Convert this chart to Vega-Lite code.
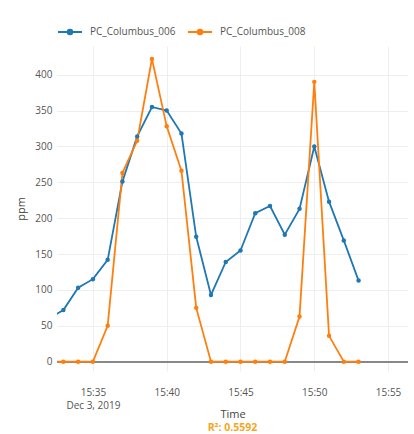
{
  "$schema": "https://vega.github.io/schema/vega-lite/v6.json",
  "width": 351,
  "height": 325,
  "autosize": {"type": "none"},
  "padding": {"left": 57, "top": 46, "right": 6, "bottom": 63},
  "background": "white",
  "config": {
    "view": {"stroke": null},
    "font": "Open Sans",
    "axis": {"gridColor": "#eeeeee", "gridWidth": 1, "domain": false, "ticks": false, "labelColor": "#555555", "labelFontSize": 10, "titleColor": "#444444", "titleFontSize": 11, "titleFontWeight": "normal"}
  },
  "title": {"text": "R²: 0.5592", "orient": "bottom", "anchor": "middle", "color": "#f5a623", "fontSize": 10.5, "fontWeight": "bold", "offset": 4},
  "data": {"values": [
    {"time": "2019-12-03T15:32:00", "sensor": "PC_Columbus_006", "ppm": 60},
    {"time": "2019-12-03T15:33:00", "sensor": "PC_Columbus_006", "ppm": 72},
    {"time": "2019-12-03T15:34:00", "sensor": "PC_Columbus_006", "ppm": 103},
    {"time": "2019-12-03T15:35:00", "sensor": "PC_Columbus_006", "ppm": 115},
    {"time": "2019-12-03T15:36:00", "sensor": "PC_Columbus_006", "ppm": 142},
    {"time": "2019-12-03T15:37:00", "sensor": "PC_Columbus_006", "ppm": 251},
    {"time": "2019-12-03T15:38:00", "sensor": "PC_Columbus_006", "ppm": 314},
    {"time": "2019-12-03T15:39:00", "sensor": "PC_Columbus_006", "ppm": 355},
    {"time": "2019-12-03T15:40:00", "sensor": "PC_Columbus_006", "ppm": 350},
    {"time": "2019-12-03T15:41:00", "sensor": "PC_Columbus_006", "ppm": 318},
    {"time": "2019-12-03T15:42:00", "sensor": "PC_Columbus_006", "ppm": 174},
    {"time": "2019-12-03T15:43:00", "sensor": "PC_Columbus_006", "ppm": 93},
    {"time": "2019-12-03T15:44:00", "sensor": "PC_Columbus_006", "ppm": 139},
    {"time": "2019-12-03T15:45:00", "sensor": "PC_Columbus_006", "ppm": 155},
    {"time": "2019-12-03T15:46:00", "sensor": "PC_Columbus_006", "ppm": 207},
    {"time": "2019-12-03T15:47:00", "sensor": "PC_Columbus_006", "ppm": 217},
    {"time": "2019-12-03T15:48:00", "sensor": "PC_Columbus_006", "ppm": 177},
    {"time": "2019-12-03T15:49:00", "sensor": "PC_Columbus_006", "ppm": 213},
    {"time": "2019-12-03T15:50:00", "sensor": "PC_Columbus_006", "ppm": 300},
    {"time": "2019-12-03T15:51:00", "sensor": "PC_Columbus_006", "ppm": 223},
    {"time": "2019-12-03T15:52:00", "sensor": "PC_Columbus_006", "ppm": 169},
    {"time": "2019-12-03T15:53:00", "sensor": "PC_Columbus_006", "ppm": 113},
    {"time": "2019-12-03T15:32:00", "sensor": "PC_Columbus_008", "ppm": 0},
    {"time": "2019-12-03T15:33:00", "sensor": "PC_Columbus_008", "ppm": 0},
    {"time": "2019-12-03T15:34:00", "sensor": "PC_Columbus_008", "ppm": 0},
    {"time": "2019-12-03T15:35:00", "sensor": "PC_Columbus_008", "ppm": 0},
    {"time": "2019-12-03T15:36:00", "sensor": "PC_Columbus_008", "ppm": 50},
    {"time": "2019-12-03T15:37:00", "sensor": "PC_Columbus_008", "ppm": 263},
    {"time": "2019-12-03T15:38:00", "sensor": "PC_Columbus_008", "ppm": 308},
    {"time": "2019-12-03T15:39:00", "sensor": "PC_Columbus_008", "ppm": 422},
    {"time": "2019-12-03T15:40:00", "sensor": "PC_Columbus_008", "ppm": 328},
    {"time": "2019-12-03T15:41:00", "sensor": "PC_Columbus_008", "ppm": 266},
    {"time": "2019-12-03T15:42:00", "sensor": "PC_Columbus_008", "ppm": 75},
    {"time": "2019-12-03T15:43:00", "sensor": "PC_Columbus_008", "ppm": 0},
    {"time": "2019-12-03T15:44:00", "sensor": "PC_Columbus_008", "ppm": 0},
    {"time": "2019-12-03T15:45:00", "sensor": "PC_Columbus_008", "ppm": 0},
    {"time": "2019-12-03T15:46:00", "sensor": "PC_Columbus_008", "ppm": 0},
    {"time": "2019-12-03T15:47:00", "sensor": "PC_Columbus_008", "ppm": 0},
    {"time": "2019-12-03T15:48:00", "sensor": "PC_Columbus_008", "ppm": 0},
    {"time": "2019-12-03T15:49:00", "sensor": "PC_Columbus_008", "ppm": 63},
    {"time": "2019-12-03T15:50:00", "sensor": "PC_Columbus_008", "ppm": 390},
    {"time": "2019-12-03T15:51:00", "sensor": "PC_Columbus_008", "ppm": 36},
    {"time": "2019-12-03T15:52:00", "sensor": "PC_Columbus_008", "ppm": 0},
    {"time": "2019-12-03T15:53:00", "sensor": "PC_Columbus_008", "ppm": 0}
  ]},
  "encoding": {
    "x": {
      "field": "time", "type": "temporal", "title": "Time",
      "scale": {"domain": [
        {"year": 2019, "month": 12, "date": 3, "hours": 15, "minutes": 32, "seconds": 34},
        {"year": 2019, "month": 12, "date": 3, "hours": 15, "minutes": 56, "seconds": 21}
      ]},
      "axis": {
        "values": [
          {"year": 2019, "month": 12, "date": 3, "hours": 15, "minutes": 35},
          {"year": 2019, "month": 12, "date": 3, "hours": 15, "minutes": 40},
          {"year": 2019, "month": 12, "date": 3, "hours": 15, "minutes": 45},
          {"year": 2019, "month": 12, "date": 3, "hours": 15, "minutes": 50},
          {"year": 2019, "month": 12, "date": 3, "hours": 15, "minutes": 55}
        ],
        "labelExpr": "minutes(datum.value) == 35 ? ['15:35', 'Dec 3, 2019'] : timeFormat(datum.value, '%H:%M')",
        "labelPadding": 16,
        "labelLineHeight": 13,
        "titlePadding": -2
      }
    },
    "y": {
      "field": "ppm", "type": "quantitative", "title": "ppm",
      "scale": {"domain": [-13, 440], "nice": false, "zero": false},
      "axis": {"values": [0, 50, 100, 150, 200, 250, 300, 350, 400], "labelPadding": 5, "titlePadding": 8}
    }
  },
  "layer": [
    {
      "mark": {"type": "rule", "color": "#888888", "strokeWidth": 1.5},
      "encoding": {"y": {"datum": 0}, "x": {"value": 0}, "x2": {"value": 351}}
    },
    {
      "mark": {"type": "line", "strokeWidth": 1.8, "clip": true},
      "encoding": {
        "color": {
          "field": "sensor", "type": "nominal",
          "scale": {"domain": ["PC_Columbus_006", "PC_Columbus_008"], "range": ["#1f77b4", "#ff7f0e"]},
          "legend": {
            "orient": "top", "direction": "horizontal", "title": null,
            "symbolType": "M-1,0H1M-0.2,0A0.2,0.2,0,1,1,0.2,0A0.2,0.2,0,1,1,-0.2,0Z",
            "symbolSize": 576, "symbolStrokeWidth": 1.8,
            "labelFontSize": 10, "labelColor": "#555555", "labelOffset": 7,
            "columnPadding": 8, "offset": 8,
            "encode": {"symbols": {"update": {"fill": {"scale": "color", "field": "value"}, "stroke": {"scale": "color", "field": "value"}}}}
          }
        }
      }
    },
    {
      "mark": {"type": "point", "filled": true, "size": 20, "opacity": 1, "clip": true},
      "encoding": {
        "color": {"field": "sensor", "type": "nominal", "scale": {"domain": ["PC_Columbus_006", "PC_Columbus_008"], "range": ["#1f77b4", "#ff7f0e"]}}
      }
    }
  ]
}
